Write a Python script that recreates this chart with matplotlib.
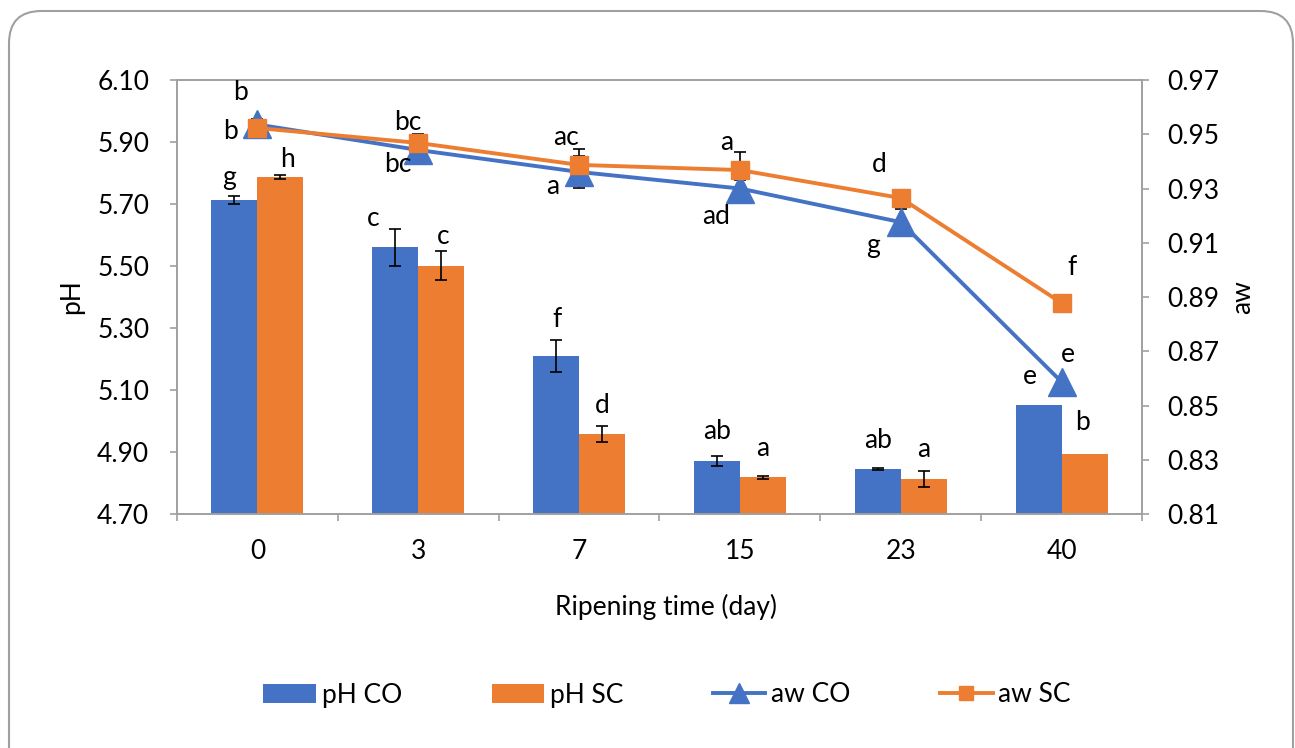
import numpy as np
import matplotlib
matplotlib.use("Agg")
import matplotlib.pyplot as plt
from matplotlib.patches import FancyBboxPatch

plt.rcParams['font.family'] = ['Lato', 'DejaVu Sans']

days = ["0", "3", "7", "15", "23", "40"]

ph_co = [5.713, 5.560, 5.210, 4.871, 4.845, 5.052]
ph_sc = [5.786, 5.501, 4.958, 4.819, 4.813, 4.894]
ph_co_err = [0.012, 0.060, 0.051, 0.016, 0.002, np.nan]
ph_sc_err = [0.006, 0.047, 0.025, 0.005, 0.026, np.nan]

aw_co = [0.9536, 0.9442, 0.9361, 0.9300, 0.9176, 0.8587]
aw_sc = [0.9523, 0.9468, 0.9387, 0.9368, 0.9265, 0.8878]
aw_co_err = [0.002, 0.003, 0.006, 0.003, 0.0048, np.nan]
aw_sc_err = [0.002, 0.0033, 0.006, 0.0066, np.nan, np.nan]

ph_co_lab = ["g", "c", "f", "ab", "ab", "e"]
ph_sc_lab = ["h", "c", "d", "a", "a", "b"]
aw_co_lab = ["b", "bc", "a", "ad", "g", "e"]
aw_sc_lab = ["b", "bc", "ac", "a", "d", "f"]

# label offsets in pixels (dx, dy up)
off_ph_co = [(-5, 22), (-22, 29), (1, 36), (0, 29), (0, 29), (-9, 28)]
off_ph_sc = [(7, 18), (2, 29), (0, 29), (0, 29), (0, 29), (-2, 31)]
off_aw_co = [(-17, 32), (-20, -15), (-26, -15), (-24, -28), (-28, -23), (6, 27)]
off_aw_sc = [(-27, -3), (-10, 20), (-13, 27), (-13, 28), (-21, 33), (10, 35)]

BLUE = "#4472C4"
ORANGE = "#ED7D31"
GRAY = "#A0A0A0"
PX = 72 / 100.0
FS = 19

fig = plt.figure(figsize=(12.95, 7.48), dpi=100)
fig.patch.set_facecolor("white")
border = FancyBboxPatch((9 / 1295, -0.05), 1284 / 1295, 1 - 11 / 748 + 0.05,
                        boxstyle="round,pad=0,rounding_size=0.025",
                        transform=fig.transFigure, fc="none", ec=GRAY, lw=1.5,
                        mutation_aspect=1295 / 748, zorder=-1)
fig.patches.append(border)

ax = fig.add_axes([177 / 1295, 1 - 514 / 748, 965 / 1295, 434 / 748])
ax.patch.set_alpha(0)
x = np.arange(len(days))
w = 0.286

ax.bar(x - w / 2, ph_co, w, color=BLUE, label="pH CO", zorder=2)
ax.bar(x + w / 2, ph_sc, w, color=ORANGE, label="pH SC", zorder=2)
ax.errorbar(x - w / 2, ph_co, yerr=ph_co_err, fmt="none", ecolor="black",
            elinewidth=1.2, capsize=4.3, capthick=1.2, zorder=3)
ax.errorbar(x + w / 2, ph_sc, yerr=ph_sc_err, fmt="none", ecolor="black",
            elinewidth=1.2, capsize=4.3, capthick=1.2, zorder=3)

ax.set_ylim(4.70, 6.10)
ax.set_yticks(np.arange(4.70, 6.11, 0.20))
ax.set_yticklabels([f"{v:.2f}" for v in np.arange(4.70, 6.11, 0.20)])
ax.set_xlim(-0.5, len(days) - 0.5)
ax.set_xticks(x)
ax.set_xticklabels(days)
ax.set_xticks(np.arange(-0.5, len(days), 1.0), minor=True)
ax.tick_params(axis="x", which="major", length=0, pad=18, labelsize=FS)
ax.tick_params(axis="x", which="minor", length=5, color=GRAY, width=1.2)
ax.tick_params(axis="y", length=5, color=GRAY, width=1.2, pad=15, labelsize=FS)
for s in ax.spines.values():
    s.set_color(GRAY)
    s.set_linewidth(1.2)

for i in range(len(days)):
    ax.annotate(ph_co_lab[i], (x[i] - w / 2, ph_co[i]),
                xytext=(off_ph_co[i][0] * PX, off_ph_co[i][1] * PX),
                textcoords="offset points", ha="center", va="center", fontsize=FS)
    ax.annotate(ph_sc_lab[i], (x[i] + w / 2, ph_sc[i]),
                xytext=(off_ph_sc[i][0] * PX, off_ph_sc[i][1] * PX),
                textcoords="offset points", ha="center", va="center", fontsize=FS)

ax2 = ax.twinx()
ax2.plot(x, aw_co, color=BLUE, lw=2.8, marker="^", ms=20, label="aw CO", zorder=3)
ax2.plot(x, aw_sc, color=ORANGE, lw=2.8, marker="s", ms=12.5, label="aw SC", zorder=4)
ax2.errorbar(x, aw_co, yerr=aw_co_err, fmt="none", ecolor="black",
             elinewidth=1.2, capsize=4.3, capthick=1.2, zorder=2)
ax2.errorbar(x, aw_sc, yerr=aw_sc_err, fmt="none", ecolor="black",
             elinewidth=1.2, capsize=4.3, capthick=1.2, zorder=2)
ax2.set_ylim(0.81, 0.97)
ax2.set_yticks(np.arange(0.81, 0.971, 0.02))
ax2.set_yticklabels([f"{v:.2f}" for v in np.arange(0.81, 0.971, 0.02)])
ax2.tick_params(axis="y", length=5, color=GRAY, width=1.2, pad=13, labelsize=FS)
for s in ax2.spines.values():
    s.set_color(GRAY)
    s.set_linewidth(1.2)

for i in range(len(days)):
    ax2.annotate(aw_co_lab[i], (x[i], aw_co[i]),
                 xytext=(off_aw_co[i][0] * PX, off_aw_co[i][1] * PX),
                 textcoords="offset points", ha="center", va="center", fontsize=FS)
    ax2.annotate(aw_sc_lab[i], (x[i], aw_sc[i]),
                 xytext=(off_aw_sc[i][0] * PX, off_aw_sc[i][1] * PX),
                 textcoords="offset points", ha="center", va="center", fontsize=FS)

fig.text(72 / 1295, 1 - 297 / 748, "pH", rotation=90, ha="center", va="center", fontsize=FS)
fig.text(1243 / 1295, 1 - 297 / 748, "aw", rotation=90, ha="center", va="center", fontsize=FS)
fig.text(666 / 1295, 1 - 607 / 748, "Ripening time (day)", ha="center", va="center", fontsize=FS)

h1, l1 = ax.get_legend_handles_labels()
h2, l2 = ax2.get_legend_handles_labels()
fig.legend(h1 + h2, l1 + l2, loc="center", bbox_to_anchor=(0.515, 1 - 695 / 748),
           ncol=4, frameon=False, fontsize=FS, handlelength=2.0, handletextpad=0.2,
           columnspacing=3.4, numpoints=1, markerscale=0.75)

fig.savefig("out.png", dpi=100)
